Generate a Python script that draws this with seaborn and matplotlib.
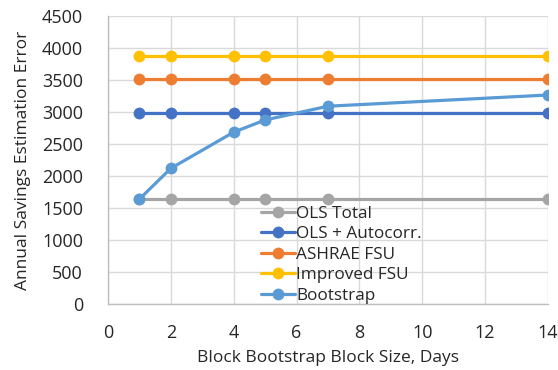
import matplotlib
matplotlib.use("Agg")
import matplotlib.pyplot as plt
import seaborn as sns
import pandas as pd

# Block sizes (days) evaluated
block_sizes = [1, 2, 4, 5, 7, 14]

# Annual savings estimation error for each method
ols_total = [1640, 1640, 1640, 1640, 1640, 1640]
ols_autocorr = [2985, 2985, 2985, 2985, 2985, 2985]
ashrae_fsu = [3510, 3510, 3510, 3510, 3510, 3510]
improved_fsu = [3880, 3880, 3880, 3880, 3880, 3880]
bootstrap = [1640, 2120, 2685, 2875, 3090, 3265]

series_names = ["OLS Total", "OLS + Autocorr.", "ASHRAE FSU", "Improved FSU", "Bootstrap"]
series_values = [ols_total, ols_autocorr, ashrae_fsu, improved_fsu, bootstrap]
series_colors = ["#A5A5A5", "#4472C4", "#ED7D31", "#FFC000", "#5B9BD5"]

x_ticks = [0, 2, 4, 6, 8, 10, 12, 14]
y_ticks = [0, 500, 1000, 1500, 2000, 2500, 3000, 3500, 4000, 4500]

rows = []
for name, vals in zip(series_names, series_values):
    for b, v in zip(block_sizes, vals):
        rows.append({"Block": b, "Error": v, "Method": name})
df = pd.DataFrame(rows)

sns.set_theme(style="white")
plt.rcParams["font.family"] = ["Open Sans", "DejaVu Sans"]

fig = plt.figure(figsize=(5.58, 3.70), dpi=100)
ax = fig.add_axes([0.1935, 0.178, 0.7885, 0.779])

sns.lineplot(
    data=df, x="Block", y="Error", hue="Method", hue_order=series_names,
    palette=series_colors, marker="o", markersize=8.5, markeredgewidth=0,
    linewidth=2.3, ax=ax, legend=True,
)

ax.set_xlim(0, 14)
ax.set_ylim(0, 4500)
ax.set_xticks(x_ticks)
ax.set_yticks(y_ticks)
ax.tick_params(axis="both", labelsize=13, colors="#262626", length=0)
ax.tick_params(axis="x", pad=14)
ax.tick_params(axis="y", pad=18)
ax.grid(True, color="#D9D9D9", linewidth=1)
ax.set_axisbelow(True)
for side in ["top", "right"]:
    ax.spines[side].set_visible(False)
for side in ["left", "bottom"]:
    ax.spines[side].set_color("#BFBFBF")
    ax.spines[side].set_linewidth(1)

ax.set_xlabel("Block Bootstrap Block Size, Days", fontsize=12.5, color="#262626", labelpad=6)
ax.set_ylabel("Annual Savings Estimation Error", fontsize=12.5, color="#262626", labelpad=8)

leg = ax.legend(
    loc="lower left", bbox_to_anchor=(0.321, -0.041), frameon=False,
    fontsize=12.3, handlelength=2.0, handletextpad=0.05, labelspacing=0.27,
    borderpad=0.2,
)
for t in leg.get_texts():
    t.set_color("#262626")

fig.savefig("out.png", dpi=100)
